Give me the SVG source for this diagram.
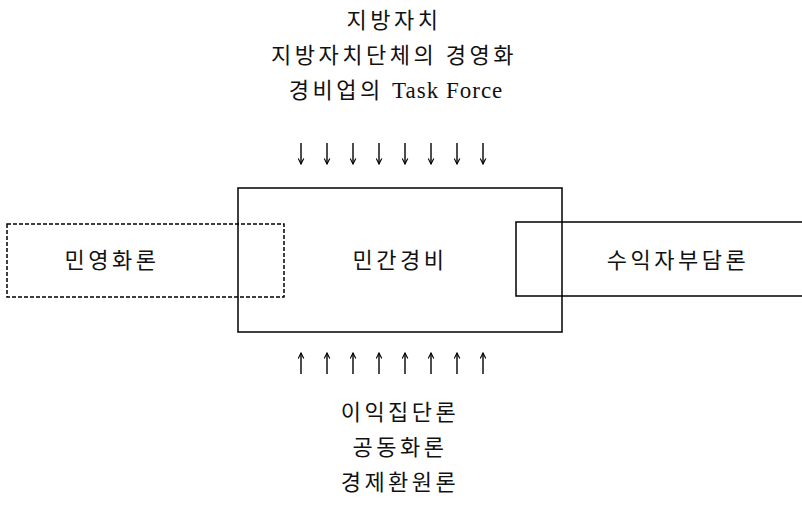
<svg xmlns="http://www.w3.org/2000/svg" width="802" height="514" viewBox="0 0 802 514">
<defs>
<marker id="ah" viewBox="0 0 10 10" refX="9" refY="5" markerWidth="7" markerHeight="7" orient="auto" markerUnits="userSpaceOnUse">
<path d="M1,1 L9,5 L1,9" fill="none" stroke="#000" stroke-width="1.6"/>
</marker>
<style>
.t{font-family:"Noto Sans CJK KR","Liberation Serif",serif;font-size:22px;fill:#111;text-anchor:middle;letter-spacing:3.5px}
.lat{font-family:"Liberation Serif",serif;font-size:23px;letter-spacing:1px}
.box{fill:none;stroke:#000;stroke-width:1.5}
.dash{fill:none;stroke:#000;stroke-width:1.5;stroke-dasharray:4 2}
.ar{stroke:#000;stroke-width:1.4;marker-end:url(#ah)}
</style>
</defs>
<rect width="802" height="514" fill="#fff"/>
<g id="top-labels">
<text class="t" x="394" y="28">지방자치</text>
<text class="t" x="394" y="63">지방자치단체의 경영화</text>
<text class="t" x="396" y="98">경비업의 <tspan class="lat">Task Force</tspan></text>
</g>
<g id="node-center">
<rect class="box" x="238" y="188" width="324" height="144"/>
<text class="t" x="400" y="268">민간경비</text>
</g>
<g id="node-left">
<rect class="dash" x="7" y="224" width="277" height="73"/>
<text class="t" x="112" y="268">민영화론</text>
</g>
<g id="node-right">
<path class="box" d="M803,222 H516 V296 H803"/>
<text class="t" x="678" y="268">수익자부담론</text>
</g>
<g id="connectors">
<line class="ar" x1="301" y1="143" x2="301" y2="164"/>
<line class="ar" x1="327" y1="143" x2="327" y2="164"/>
<line class="ar" x1="353" y1="143" x2="353" y2="164"/>
<line class="ar" x1="379" y1="143" x2="379" y2="164"/>
<line class="ar" x1="405" y1="143" x2="405" y2="164"/>
<line class="ar" x1="431" y1="143" x2="431" y2="164"/>
<line class="ar" x1="457" y1="143" x2="457" y2="164"/>
<line class="ar" x1="483" y1="143" x2="483" y2="164"/>
<line class="ar" x1="301" y1="374" x2="301" y2="353"/>
<line class="ar" x1="327" y1="374" x2="327" y2="353"/>
<line class="ar" x1="353" y1="374" x2="353" y2="353"/>
<line class="ar" x1="379" y1="374" x2="379" y2="353"/>
<line class="ar" x1="405" y1="374" x2="405" y2="353"/>
<line class="ar" x1="431" y1="374" x2="431" y2="353"/>
<line class="ar" x1="457" y1="374" x2="457" y2="353"/>
<line class="ar" x1="483" y1="374" x2="483" y2="353"/>
</g>
<g id="bottom-labels">
<text class="t" x="400" y="420">이익집단론</text>
<text class="t" x="400" y="455">공동화론</text>
<text class="t" x="400" y="490">경제환원론</text>
</g>
</svg>
